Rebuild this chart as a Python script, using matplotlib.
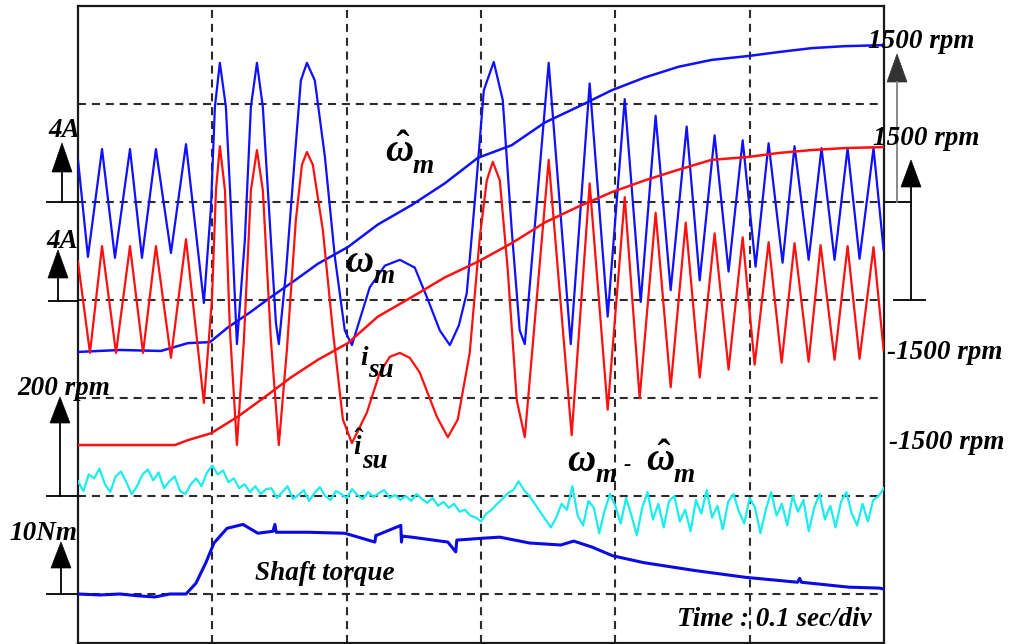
import numpy as np
import matplotlib
matplotlib.use("Agg")
import matplotlib.pyplot as plt
from matplotlib.patches import Polygon

plt.rcParams['lines.scale_dashes'] = False
plt.rcParams['mathtext.fontset'] = 'custom'
plt.rcParams['mathtext.it'] = 'Liberation Serif:bold:italic'
plt.rcParams['mathtext.rm'] = 'Liberation Serif:bold'
plt.rcParams['mathtext.bf'] = 'Liberation Serif:bold:italic'

# deeper subscripts for the omega labels (as in the reference)
try:
    from matplotlib import _mathtext as _mt

    class _LibSerifConsts(_mt.FontConstantsBase):
        sub1 = 0.62
        sub2 = 0.7
        delta = -0.04

    _mt._font_constant_mapping['Liberation Serif'] = _LibSerifConsts
except Exception:
    pass

# ---------------- data: time in ms (0.1 s/div), amplitude in screen divisions ----------------
# blue phase current (upper current trace)
i_blue_t = [0, 7.4, 17.9, 27.5, 38.7, 47.6, 58.0, 69.2, 80.4, 93.7,
            99.0, 101.9, 105.6, 110.1, 113.8, 118.3, 124.2, 128.7, 133.2, 137.6,
            142.8, 147.3, 149.5, 154.8, 161.4, 165.9, 170.4, 176.3, 183.8, 191.2,
            198.6, 203.9, 217.2, 228.4, 239.6, 250.7, 259.7, 269.3, 276.8, 283.5,
            289.4, 296.1, 302.1, 309.5, 316.2, 322.9, 328.8, 332.6, 350.4, 366.8,
            380.9, 394.3, 407.0, 418.9, 430.0, 441.2, 453.1, 462.8, 473.9, 484.3,
            494.8, 504.4, 514.1, 524.5, 533.4, 543.9, 553.5, 563.2, 572.9, 581.8,
            592.2, 599.7]
i_blue_v = [4.43, 3.44, 4.54, 3.43, 4.54, 3.43, 4.54, 3.48, 4.59, 2.97,
            3.95, 4.97, 5.42, 4.97, 3.95, 2.55, 3.61, 4.97, 5.42, 4.97,
            3.79, 2.77, 2.55, 3.28, 4.46, 5.24, 5.42, 5.24, 4.46, 3.44,
            2.69, 2.54, 3.13, 3.35, 3.41, 3.33, 3.03, 2.69, 2.54, 2.74,
            3.07, 4.12, 5.14, 5.43, 5.04, 3.71, 2.69, 2.55, 5.42, 2.55,
            5.21, 2.83, 5.05, 2.98, 4.88, 3.10, 4.77, 3.20, 4.68, 3.29,
            4.63, 3.34, 4.60, 3.38, 4.57, 3.41, 4.55, 3.41, 4.55, 3.42,
            4.55, 3.51]

# red phase current (lower current trace)
i_red_t = [0, 8.9, 17.9, 28.3, 38.7, 48.4, 58.0, 69.2, 80.4, 93.7,
           99.7, 102.7, 105.6, 109.4, 113.1, 118.3, 123.5, 128.7, 133.2, 137.6,
           143.6, 149.5, 155.5, 162.2, 166.7, 170.4, 174.8, 182.3, 189.7, 197.2,
           203.9, 215.0, 224.7, 232.1, 239.6, 247.0, 254.4, 267.1, 275.3, 282.7,
           291.6, 299.1, 304.3, 308.8, 314.0, 319.9, 326.6, 332.6, 350.4, 367.5,
           380.9, 394.3, 407.0, 418.1, 430.0, 441.2, 452.4, 462.8, 473.9, 484.3,
           494.8, 503.7, 514.1, 523.8, 533.4, 543.9, 552.8, 563.2, 572.9, 581.8,
           592.2, 599.7]
i_red_v = [3.39, 2.46, 3.55, 2.46, 3.55, 2.46, 3.55, 2.41, 3.62, 1.95,
           3.00, 4.12, 4.57, 4.12, 2.69, 1.52, 2.59, 4.12, 4.53, 4.12,
           2.59, 1.52, 2.49, 3.82, 4.38, 4.51, 4.38, 3.71, 2.69, 1.78,
           1.54, 1.85, 2.26, 2.42, 2.46, 2.41, 2.26, 1.81, 1.60, 1.78,
           2.46, 3.64, 4.22, 4.41, 4.22, 3.31, 1.98, 1.60, 4.43, 1.62,
           4.19, 1.88, 4.05, 2.00, 3.89, 2.11, 3.79, 2.21, 3.68, 2.29,
           3.64, 2.34, 3.59, 2.36, 3.58, 2.37, 3.56, 2.39, 3.55, 2.40,
           3.54, 2.49]

# estimated speed (blue) and measured speed (red)
w_est_t = [0, 31.2, 61.8, 81.8, 98.2, 111.6, 128.7, 143.6, 161.4, 178.6,
           200.9, 223.2, 248.5, 273.0, 297.6, 322.9, 347.4, 372.0, 397.3, 421.8,
           447.1, 471.7, 499.2, 521.5, 546.1, 570.6, 598.2, 600]
w_est_v = [2.47, 2.49, 2.48, 2.56, 2.57, 2.72, 2.88, 3.03, 3.20, 3.37,
           3.54, 3.77, 3.97, 4.19, 4.45, 4.58, 4.81, 4.97, 5.14, 5.27,
           5.38, 5.45, 5.49, 5.53, 5.57, 5.59, 5.60, 5.59]
w_meas_t = [0, 72.2, 81.8, 99.0, 119.0, 139.1, 158.5, 178.6, 200.9, 223.2,
            248.5, 273.0, 297.6, 322.9, 347.4, 372.0, 397.3, 421.8, 447.1, 471.7,
            499.2, 521.5, 546.1, 570.6, 598.2, 600]
w_meas_v = [1.52, 1.52, 1.57, 1.64, 1.81, 2.01, 2.21, 2.39, 2.56, 2.83,
            3.03, 3.23, 3.39, 3.58, 3.79, 3.95, 4.10, 4.22, 4.33, 4.43,
            4.46, 4.50, 4.53, 4.55, 4.56, 4.56]

# speed error (cyan), sampled every 4 ms from 0 to 600 ms
w_err_v = [1.15, 1.05, 1.22, 1.18, 1.28, 1.12, 1.04, 1.20, 1.25, 1.14,
           1.02, 1.10, 1.22, 1.27, 1.16, 1.24, 1.08, 1.15, 1.20, 1.05,
           1.02, 1.12, 1.18, 1.10, 1.24, 1.31,
           1.22, 1.26, 1.14, 1.18, 1.08, 1.12, 1.04, 1.10, 1.02, 1.07,
           1.08, 0.98, 1.04, 1.10, 0.97, 1.01, 1.06, 0.95, 1.03, 1.09,
           1.00, 0.96, 1.05, 1.02, 0.98, 1.07, 1.01, 0.97, 1.04, 0.99,
           1.03, 1.06, 0.98, 1.01, 0.96,
           1.00, 0.95, 1.02, 0.97, 0.93, 0.98, 0.90, 0.94,
           0.88, 0.92, 0.84, 0.86, 0.80, 0.78, 0.74,
           0.82, 0.86, 0.92, 0.97, 1.03, 1.06, 1.15,
           1.06, 1.00, 0.92, 0.84, 0.76, 0.68,
           0.78, 0.92, 0.86, 1.10, 0.80, 0.70, 0.95, 0.88, 0.62, 0.85,
           1.02, 0.90, 0.72, 0.98, 0.80, 0.60, 0.88, 1.04, 0.76, 0.92,
           0.68, 0.95, 1.00, 0.74, 0.86, 0.64, 0.96, 0.82, 1.06, 0.78,
           0.90, 0.66, 0.94, 1.02, 0.84, 0.72, 0.98, 0.88, 0.62, 0.86,
           1.04, 0.80, 0.92, 0.70, 1.00, 0.84, 0.96, 0.64, 0.88, 1.02,
           0.76, 0.90, 0.68, 0.94, 1.04, 0.82, 0.70, 0.92, 0.74, 0.96,
           1.00, 1.08]
w_err_t = np.linspace(0, 600, len(w_err_v))

# shaft torque (blue, bottom)
torque_t = [0, 16.4, 31.2, 46.1, 57.3, 68.4, 80.4, 87.8, 95.2, 101.2,
            110.9, 122.8, 133.9, 145.1, 146.6, 147.5, 171.9, 198.6, 221.0, 221.7,
            222.5, 240.3, 240.8, 241.3, 248.5, 275.3, 281.2, 282.0, 302.1, 314.0,
            336.3, 359.4, 369.0, 382.4, 398.0, 421.1, 459.0, 497.0, 535.7, 537.2,
            538.5, 573.6, 596.7, 600]
torque_v = [0.00, -0.01, 0.00, -0.02, -0.03, 0.00, 0.00, 0.11, 0.32, 0.52,
            0.67, 0.71, 0.62, 0.64, 0.71, 0.63, 0.63, 0.62, 0.53, 0.60,
            0.60, 0.70, 0.53, 0.59, 0.58, 0.53, 0.43, 0.55, 0.57, 0.58,
            0.52, 0.50, 0.54, 0.48, 0.39, 0.32, 0.24, 0.17, 0.12, 0.16,
            0.12, 0.07, 0.06, 0.05]

grid_t = [100, 200, 300, 400, 500]
grid_div = [0, 1, 2, 3, 4, 5]

# ---------------- figure ----------------
W, H = 1010, 644
fig = plt.figure(figsize=(W / 100, H / 100), dpi=100)
fig.patch.set_facecolor('white')
ax = fig.add_axes([78 / W, 1 / H, 806 / W, 637 / H])
ax.set_xlim(0, 600)
ax.set_ylim(-0.5, 6.0)
ax.set_xticks([])
ax.set_yticks([])
for s in ax.spines.values():
    s.set_linewidth(1.6)
    s.set_color('#1a1a1a')

gkw = dict(color='#2b2b2b', lw=1.5, dashes=(5.8, 4.2), zorder=1)
for g in grid_t:
    ax.axvline(g, **gkw)
for g in grid_div:
    ax.axhline(g, **gkw)

ax.plot(w_err_t, w_err_v, color='#1cecec', lw=1.6, zorder=3)
ax.plot(torque_t, torque_v, color='#0a0ae6', lw=2.2, zorder=3)
ax.plot(i_blue_t, i_blue_v, color='#1010ff', lw=1.6, zorder=4)
ax.plot(w_est_t, w_est_v, color='#1010ff', lw=1.8, zorder=4)
ax.plot(i_red_t, i_red_v, color='#ff1010', lw=1.6, zorder=5)
ax.plot(w_meas_t, w_meas_v, color='#ff1010', lw=1.8, zorder=5)

# ---------------- annotation layer (pixel coordinates) ----------------
ov = fig.add_axes([0, 0, 1, 1])
ov.set_xlim(0, W)
ov.set_ylim(H, 0)
ov.axis('off')
ov.patch.set_alpha(0)

FONT = 'Liberation Serif'
FS = 19.5


def txt(x, y, s, size=FS, ha='left', va='baseline'):
    ov.text(x, y, s, fontsize=size, family=FONT, weight='bold', style='italic',
            ha=ha, va=va, color='black', zorder=10)


def arrow(x, y_base, y_tip, head_len, half_w, tick, line_color='black', head_color='black'):
    ov.plot([tick[0], tick[1]], [y_base, y_base], color='black', lw=1.3, solid_capstyle='butt')
    ov.plot([x, x], [y_base, y_tip + head_len], color=line_color, lw=1.3)
    ov.add_patch(Polygon([[x - half_w, y_tip + head_len], [x + half_w, y_tip + head_len], [x, y_tip]],
                         closed=True, facecolor=head_color, edgecolor=head_color, lw=0.5))


# left scale markers
arrow(62, 202, 143, 29, 10, (46, 78))
txt(48, 137, '4A')
arrow(58, 301, 250, 28, 10, (48, 78))
txt(46, 248, '4A')
arrow(60, 496, 397, 26, 10, (46, 78))
txt(17, 395, '200 rpm')
arrow(61, 594, 542, 26, 10, (46, 78))
txt(9, 540, '10Nm')

# right scale markers
arrow(897, 202, 54, 28, 10, (884, 912), line_color='#808080', head_color='#333333')
arrow(911, 300, 160, 27, 10, (893, 926))
txt(868, 48, '1500 rpm')
txt(873, 145, '1500 rpm')
txt(887, 359, '-1500 rpm')
txt(889, 449, '-1500 rpm')

# trace labels
WS = 28
txt(385, 162, r'$\hat{\omega}_m$', size=WS)
txt(345, 272, r'$\omega_m$', size=WS)
txt(360, 365, 'i')
txt(368, 377, 'su')
txt(353, 455, r'$\hat{i}$')
txt(362, 468, 'su')
txt(567, 471, r'$\omega_m$', size=WS)
txt(627, 470, '-', size=16, ha='center')
txt(646, 471, r'$\hat{\omega}_m$', size=WS)
txt(255, 580, 'Shaft torque')
txt(677, 626, 'Time : 0.1 sec/div')

fig.savefig('out.png', dpi=100, facecolor='white')
